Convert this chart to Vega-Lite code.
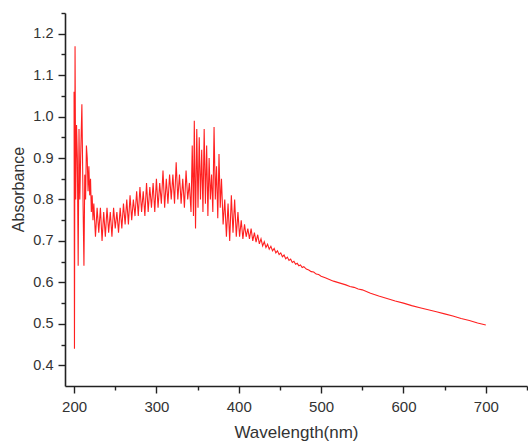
{
  "$schema": "https://vega.github.io/schema/vega-lite/v6.json",
  "width": 462,
  "height": 373,
  "autosize": {"type": "none"},
  "padding": {"left": 65, "top": 13, "right": 1, "bottom": 60},
  "background": "white",
  "config": {"view": {"stroke": null}},
  "data": {"values": [
    {"w":200,"a":1.06},{"w":200.5,"a":0.44},{"w":201.2,"a":1.17},{"w":202,"a":0.80},{"w":203,"a":0.98},{"w":204,"a":0.90},{"w":205,"a":0.64},{"w":206,"a":0.97},{"w":207,"a":0.80},{"w":208,"a":0.90},{"w":209.5,"a":1.03},
    {"w":211,"a":0.78},{"w":212,"a":0.64},{"w":213,"a":0.86},{"w":214,"a":0.80},{"w":215,"a":0.93},{"w":216,"a":0.90},{"w":217,"a":0.82},{"w":218,"a":0.88},{"w":219,"a":0.81},{"w":220,"a":0.85},
    {"w":221,"a":0.77},{"w":222,"a":0.81},{"w":223,"a":0.75},{"w":224,"a":0.79},{"w":226,"a":0.71},{"w":228,"a":0.78},{"w":230,"a":0.72},{"w":232,"a":0.78},{"w":234,"a":0.70},{"w":236,"a":0.77},
    {"w":238,"a":0.71},{"w":240,"a":0.78},{"w":242,"a":0.72},{"w":244,"a":0.77},{"w":246,"a":0.71},{"w":248,"a":0.78},{"w":250,"a":0.73},{"w":252,"a":0.77},{"w":254,"a":0.72},{"w":256,"a":0.78},
    {"w":258,"a":0.73},{"w":260,"a":0.79},{"w":262,"a":0.74},{"w":264,"a":0.80},{"w":266,"a":0.74},{"w":268,"a":0.81},{"w":270,"a":0.75},{"w":272,"a":0.80},{"w":274,"a":0.76},{"w":276,"a":0.82},
    {"w":278,"a":0.76},{"w":280,"a":0.83},{"w":282,"a":0.77},{"w":284,"a":0.82},{"w":286,"a":0.76},{"w":288,"a":0.84},{"w":290,"a":0.77},{"w":292,"a":0.83},{"w":294,"a":0.78},{"w":296,"a":0.84},
    {"w":298,"a":0.77},{"w":300,"a":0.85},{"w":302,"a":0.78},{"w":304,"a":0.84},{"w":306,"a":0.79},{"w":308,"a":0.87},{"w":310,"a":0.78},{"w":312,"a":0.85},{"w":314,"a":0.79},{"w":316,"a":0.86},
    {"w":318,"a":0.80},{"w":320,"a":0.86},{"w":322,"a":0.79},{"w":324,"a":0.89},{"w":326,"a":0.80},{"w":328,"a":0.86},{"w":330,"a":0.79},{"w":332,"a":0.85},{"w":334,"a":0.78},{"w":336,"a":0.87},
    {"w":338,"a":0.80},{"w":340,"a":0.84},{"w":342,"a":0.77},{"w":343.5,"a":0.93},{"w":345,"a":0.76},{"w":346,"a":0.99},{"w":347.5,"a":0.73},{"w":349,"a":0.97},{"w":350.5,"a":0.78},{"w":352,"a":0.95},
    {"w":353.5,"a":0.80},{"w":355,"a":0.92},{"w":356.5,"a":0.77},{"w":358,"a":0.97},{"w":359.5,"a":0.79},{"w":361,"a":0.93},{"w":362.5,"a":0.76},{"w":364,"a":0.90},{"w":365.5,"a":0.80},{"w":367,"a":0.86},
    {"w":368.5,"a":0.77},{"w":370,"a":0.975},{"w":371.5,"a":0.80},{"w":373,"a":0.88},{"w":374.5,"a":0.755},{"w":376,"a":0.91},{"w":377.5,"a":0.78},{"w":379,"a":0.85},{"w":381,"a":0.74},{"w":383,"a":0.80},
    {"w":385,"a":0.71},{"w":387,"a":0.79},{"w":389,"a":0.70},{"w":391,"a":0.81},{"w":393,"a":0.72},{"w":395,"a":0.80},{"w":397,"a":0.71},{"w":399,"a":0.77},{"w":401,"a":0.71},{"w":403,"a":0.75},
    {"w":405,"a":0.705},{"w":407,"a":0.74},{"w":409,"a":0.71},{"w":411,"a":0.73},{"w":413,"a":0.705},{"w":415,"a":0.73},{"w":417,"a":0.70},{"w":419,"a":0.72},{"w":421,"a":0.697},{"w":423,"a":0.715},
    {"w":425,"a":0.693},{"w":427,"a":0.705},{"w":429,"a":0.688},{"w":431,"a":0.698},{"w":433,"a":0.684},{"w":435,"a":0.692},{"w":437,"a":0.680},{"w":439,"a":0.687},{"w":441,"a":0.676},{"w":443,"a":0.682},
    {"w":445,"a":0.671},{"w":447,"a":0.676},{"w":449,"a":0.667},{"w":451,"a":0.671},{"w":453,"a":0.662},{"w":455,"a":0.666},{"w":457,"a":0.657},{"w":459,"a":0.661},{"w":461,"a":0.653},{"w":463,"a":0.656},
    {"w":465,"a":0.648},{"w":467,"a":0.651},{"w":469,"a":0.644},{"w":471,"a":0.646},{"w":473,"a":0.640},{"w":475,"a":0.642},{"w":477,"a":0.636},{"w":479,"a":0.638},{"w":482,"a":0.632},{"w":485,"a":0.630},
    {"w":488,"a":0.626},{"w":491,"a":0.625},{"w":494,"a":0.620},{"w":497,"a":0.619},{"w":500,"a":0.615},{"w":505,"a":0.611},{"w":510,"a":0.607},{"w":515,"a":0.603},{"w":520,"a":0.600},{"w":525,"a":0.597},
    {"w":530,"a":0.594},{"w":535,"a":0.590},{"w":540,"a":0.588},{"w":545,"a":0.584},{"w":550,"a":0.582},{"w":560,"a":0.574},{"w":570,"a":0.567},{"w":580,"a":0.561},{"w":590,"a":0.555},{"w":600,"a":0.550},
    {"w":610,"a":0.544},{"w":620,"a":0.539},{"w":630,"a":0.534},{"w":640,"a":0.529},{"w":650,"a":0.524},{"w":660,"a":0.519},{"w":670,"a":0.513},{"w":680,"a":0.508},{"w":690,"a":0.502},{"w":700,"a":0.497}
  ]},
  "mark": {"type": "line", "color": "#ff2020", "strokeWidth": 1.1, "clip": true},
  "encoding": {
    "x": {
      "field": "w", "type": "quantitative",
      "scale": {"domain": [189, 750], "nice": false, "zero": false},
      "axis": {
        "title": "Wavelength(nm)",
        "values": [200,250,300,350,400,450,500,550,600,650,700,750],
        "labelExpr": "datum.value % 100 == 0 ? datum.label : ''",
        "tickSize": {"condition": {"test": "datum.value % 100 == 0", "value": 7}, "value": 4},
        "grid": false,
        "domainColor": "#222", "domainWidth": 1.6,
        "tickColor": "#222", "tickWidth": 1.4,
        "labelFont": "Liberation Sans", "labelFontSize": 15, "labelColor": "#333",
        "labelPadding": 6, "labelFlush": false,
        "titleFont": "Liberation Sans", "titleFontSize": 17, "titleFontWeight": "normal", "titleColor": "#333",
        "titlePadding": 10
      }
    },
    "y": {
      "field": "a", "type": "quantitative",
      "scale": {"domain": [0.35, 1.25], "nice": false, "zero": false},
      "axis": {
        "title": "Absorbance",
        "values": [0.4,0.45,0.5,0.55,0.6,0.65,0.7,0.75,0.8,0.85,0.9,0.95,1.0,1.05,1.1,1.15,1.2,1.25],
        "labelExpr": "abs(datum.value*10 - round(datum.value*10)) < 0.01 ? format(datum.value, '.1f') : ''",
        "tickSize": {"condition": {"test": "abs(datum.value*10 - round(datum.value*10)) < 0.01", "value": 7}, "value": 4},
        "grid": false,
        "domainColor": "#222", "domainWidth": 1.6,
        "tickColor": "#222", "tickWidth": 1.4,
        "labelFont": "Liberation Sans", "labelFontSize": 14.5, "labelColor": "#333",
        "labelPadding": 5, "labelFlush": false,
        "titleFont": "Liberation Sans", "titleFontSize": 16, "titleFontWeight": "normal", "titleColor": "#333",
        "titleAngle": 270, "titleX": -47, "titleY": 176, "titleAlign": "center", "titleBaseline": "middle"
      }
    }
  }
}
